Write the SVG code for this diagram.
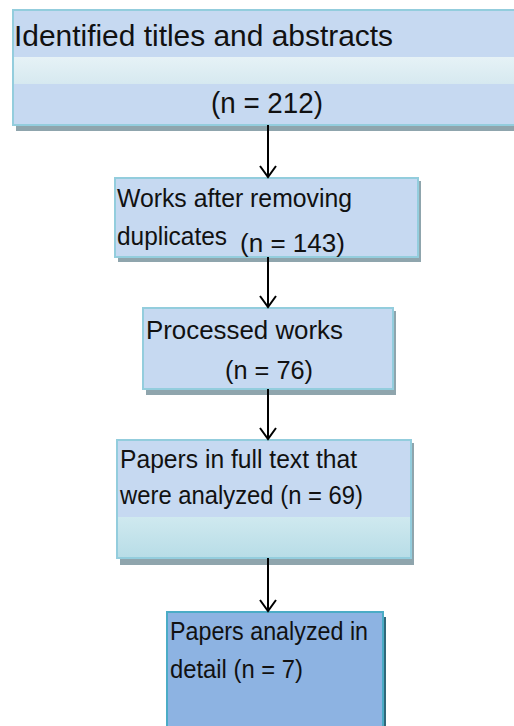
<svg xmlns="http://www.w3.org/2000/svg" width="514" height="726" viewBox="0 0 514 726">
<style>
.box{fill:#C6D9F1;stroke:#93CDDD;stroke-width:2}
.shadow{fill:#8FA5AD}
.t{font-family:"Liberation Sans",Arial,sans-serif;font-size:25px;fill:#111}
.big{font-size:30px}
.conn line{stroke:#000;stroke-width:2}
.conn path{fill:none;stroke:#000;stroke-width:2}
</style>
<defs>
<linearGradient id="band1" x1="0" y1="0" x2="0" y2="1">
<stop offset="0" stop-color="#E6F2F6"/><stop offset="1" stop-color="#D6E9F0"/>
</linearGradient>
<linearGradient id="band4" x1="0" y1="0" x2="0" y2="1">
<stop offset="0" stop-color="#CFE9EF"/><stop offset="1" stop-color="#B8DDE7"/>
</linearGradient>
</defs>
<rect width="514" height="726" fill="#fff"/>
<g id="n1">
<rect class="shadow" x="16" y="13" width="500" height="118"/>
<rect class="box" x="13" y="10" width="502" height="115"/>
<rect x="14" y="57" width="501" height="27" fill="url(#band1)"/>
<text class="t big" x="14" y="46" textLength="379" lengthAdjust="spacingAndGlyphs">Identified titles and abstracts</text>
<text class="t big" x="211" y="113" textLength="112" lengthAdjust="spacingAndGlyphs">(n = 212)</text>
</g>
<g id="n2">
<rect class="shadow" x="118" y="181" width="303" height="81"/>
<rect class="box" x="115" y="178" width="303" height="79"/>
<text class="t" x="117" y="207" textLength="235" lengthAdjust="spacingAndGlyphs">Works after removing</text>
<text class="t" x="117" y="245" textLength="110" lengthAdjust="spacingAndGlyphs">duplicates</text>
<text class="t" x="240" y="252" textLength="105" lengthAdjust="spacingAndGlyphs">(n = 143)</text>
</g>
<g id="n3">
<rect class="shadow" x="146" y="311" width="250" height="84"/>
<rect class="box" x="143" y="308" width="250" height="81"/>
<text class="t" x="146" y="339" textLength="197" lengthAdjust="spacingAndGlyphs">Processed works</text>
<text class="t" x="225" y="379" textLength="88" lengthAdjust="spacingAndGlyphs">(n = 76)</text>
</g>
<g id="n4">
<rect class="shadow" x="120" y="443" width="294" height="122"/>
<rect class="box" x="117" y="440" width="294" height="118"/>
<rect x="118" y="517" width="292" height="40" fill="url(#band4)"/>
<text class="t" x="120" y="468" textLength="237" lengthAdjust="spacingAndGlyphs">Papers in full text that</text>
<text class="t" x="120" y="504" textLength="243" lengthAdjust="spacingAndGlyphs">were analyzed (n = 69)</text>
</g>
<g id="n5">
<rect x="170" y="617" width="216" height="112" fill="#31697A"/>
<rect x="167" y="612" width="216" height="118" fill="#8DB3E2" stroke="#4BACC6" stroke-width="2"/>
<text class="t" x="170" y="640" textLength="198" lengthAdjust="spacingAndGlyphs">Papers analyzed in</text>
<text class="t" x="170" y="678" textLength="133" lengthAdjust="spacingAndGlyphs">detail (n = 7)</text>
</g>
<g id="connectors" class="conn">
<line x1="268" y1="125" x2="268" y2="177"/>
<path d="M260 166 L268 177 L276 166"/>
<line x1="268" y1="257" x2="268" y2="307"/>
<path d="M260 296 L268 307 L276 296"/>
<line x1="268" y1="389" x2="268" y2="439"/>
<path d="M260 428 L268 439 L276 428"/>
<line x1="268" y1="558" x2="268" y2="611"/>
<path d="M260 600 L268 611 L276 600"/>
</g>
</svg>
